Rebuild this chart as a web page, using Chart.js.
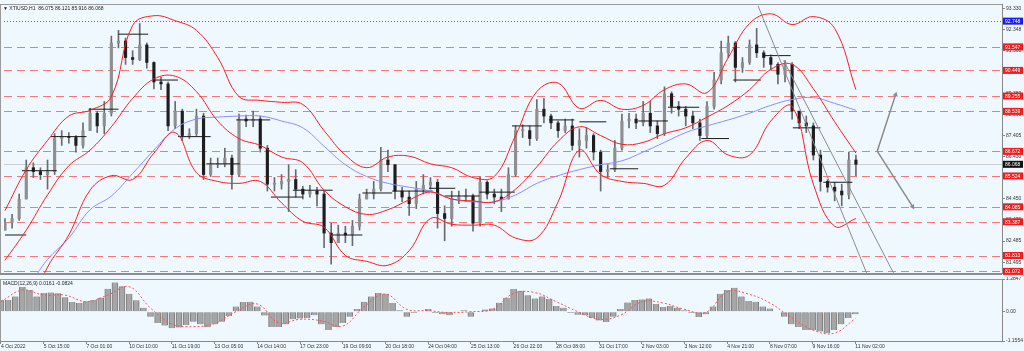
<!DOCTYPE html>
<html>
<head>
<meta charset="utf-8">
<script src="https://cdn.jsdelivr.net/npm/chart.js@4.4.0/dist/chart.umd.min.js"></script>
<style>
  html, body { margin: 0; padding: 0; background: #f0f8ff; }
  #wrap { position: relative; width: 1024px; height: 351px; overflow: hidden; background: #f0f8ff; }
  #PriceChart { position: absolute; left: 0; top: 0; }
  #MacdChart { position: absolute; left: 0; top: 277px; }
</style>
</head>
<body>
<div id="wrap">
  <canvas id="PriceChart" width="1024" height="277"></canvas>
  <canvas id="MacdChart" width="1024" height="74"></canvas>
</div>
<script>
// XTIUSD H1, one candle here = roughly 5-6 hourly bars of the source chart
const first_open = 83.00;
const closes = [83.36,83.54,84.45,85.91,85.73,85.59,85.73,87.27,87.36,87.32,
  86.95,87.64,88.45,87.86,88.45,91.73,91.82,91.05,90.96,91.64,
  90.82,89.91,89.82,87.86,88.55,87.41,87.50,88.32,85.59,86.05,
  86.09,86.36,85.59,88.18,88.09,88.18,86.82,85.14,85.14,85.27,
  85.36,84.91,84.68,84.82,84.68,82.86,82.41,82.86,82.77,83.18,
  84.45,84.68,84.91,86.27,86.05,84.82,84.54,84.23,84.91,85.09,
  85.23,83.77,83.54,84.45,84.54,84.59,83.32,85.23,84.68,84.54,
  84.45,85.59,87.64,87.64,87.27,88.64,88.32,88.00,87.64,87.86,
  86.95,87.18,87.41,86.64,85.73,85.82,86.82,88.09,88.18,88.00,
  88.45,87.86,87.50,89.36,88.77,88.64,88.32,88.00,87.41,88.77,
  90.00,91.27,91.73,90.59,90.82,91.64,91.27,91.05,90.73,90.27,
  90.73,88.55,88.00,87.86,86.50,85.27,85.00,84.82,84.64,86.27,86.068];
const highs = [83.54,83.73,84.68,86.27,86.14,85.91,86.27,87.50,87.64,87.55,
  87.41,88.00,88.68,88.55,89.00,92.05,92.32,91.96,91.37,92.64,
  91.73,90.85,90.14,89.90,89.00,88.64,87.73,88.64,88.45,86.36,
  86.36,86.82,86.50,88.41,88.36,88.55,88.32,86.95,85.45,85.59,
  86.05,85.82,85.04,85.09,85.00,84.82,83.32,83.23,83.18,83.45,
  84.68,84.91,85.27,86.86,86.73,86.05,85.00,84.82,85.27,85.59,
  85.45,85.36,84.13,84.82,84.82,84.91,84.68,85.50,85.30,84.91,
  84.91,85.91,87.86,87.91,87.86,89.09,89.14,88.41,88.09,88.18,
  88.18,87.73,87.77,87.50,86.73,86.05,87.18,88.41,88.45,88.41,
  89.00,89.00,88.09,89.68,89.45,89.00,88.77,88.55,88.18,89.00,
  90.36,91.82,92.05,91.80,91.05,91.87,92.41,91.37,91.18,90.82,
  90.91,90.82,88.55,88.32,88.00,86.73,85.36,85.23,85.14,86.64,86.50];
const lows = [83.00,83.09,83.45,84.45,85.45,85.36,84.91,85.59,86.95,87.05,
  86.64,86.82,87.64,87.55,87.50,88.32,91.50,90.73,90.73,90.91,
  90.55,89.59,89.55,87.64,87.73,87.18,87.27,87.41,85.36,85.50,
  85.91,85.95,84.91,85.50,87.82,87.82,86.64,84.82,84.82,84.91,
  83.86,84.54,84.45,84.54,84.13,82.18,81.41,82.41,82.41,82.27,
  83.00,84.45,84.45,84.82,85.73,84.45,84.32,83.68,84.00,84.68,
  84.91,83.09,82.50,83.18,84.23,84.32,82.95,83.18,84.45,84.23,
  83.86,84.45,85.50,87.32,86.95,87.18,88.00,87.73,87.32,87.55,
  86.73,86.41,86.82,86.27,84.82,85.45,85.73,86.73,87.77,87.73,
  87.86,87.55,87.27,87.41,88.45,88.32,87.86,87.73,87.18,87.27,
  88.64,89.82,91.05,89.91,90.36,90.73,91.05,90.59,90.46,89.82,
  89.91,88.18,87.73,87.55,86.27,84.82,84.77,84.36,84.13,84.45,85.54];

// indicator lines read every 3 candles
const band_idx = [0,3,6,9,12,15,18,21,24,27,30,33,36,39,42,45,48,51,54,57,
  60,63,66,69,72,75,78,81,84,87,90,93,96,99,102,105,108,111,114,117,120];
const bb_upper = [83.91,85.82,87.18,88.32,88.59,89.23,92.55,93.00,92.77,92.32,
  91.05,89.23,89.05,88.96,88.86,87.64,86.50,85.91,86.41,86.45,
  86.09,85.91,85.45,85.50,87.41,89.46,89.86,88.68,89.05,88.64,
  88.82,89.55,89.82,89.41,91.05,92.64,93.09,92.59,92.96,92.41,89.55];
const bb_middle = [81.59,83.00,84.64,86.00,86.73,87.82,89.14,90.05,90.18,89.46,
  88.09,87.27,86.95,86.41,86.14,84.86,84.09,83.73,83.95,84.41,
  84.77,84.45,84.36,84.32,84.91,85.95,87.14,87.82,87.41,87.00,
  87.09,87.50,87.77,88.27,88.82,89.55,90.50,90.73,89.59,88.05,86.59];
const bb_lower = [77.50,79.00,81.27,82.77,84.86,85.54,85.36,86.59,87.55,85.68,
  85.27,85.18,85.27,84.27,83.41,83.13,81.82,81.54,81.36,82.04,
  83.54,83.27,83.23,83.23,82.63,82.63,84.32,86.73,85.59,85.27,
  85.18,85.09,86.36,87.18,86.50,86.50,88.09,88.77,85.14,83.18,83.54];
const ma_slow = [79.40,80.27,81.63,82.63,83.95,84.59,85.64,86.73,87.73,88.18,
  88.27,88.32,88.32,88.09,87.77,86.91,86.05,85.50,85.18,85.00,
  84.82,84.45,84.32,84.32,84.64,85.18,85.54,85.82,86.05,86.23,
  86.64,87.09,87.55,87.86,88.14,88.45,88.82,89.09,89.18,88.91,88.59];

// short black level marks: start candle, end candle, price
const mark_start = [0,2.4,6.5,11.8,16,21,24.4,28.4,32.6,37.5,40.6,46.2,50.4,54.6,59.8,62,66.9,71.5,76.7,81,85.3,89.3,93.5,98.2,102.7,106.9,111.1,115.4];
const mark_end = [3,7.3,11.5,16,20.2,24.4,29,33.1,37.4,42,46.2,50.4,54.6,60.3,63.5,66.9,71.9,75.7,80.3,84.8,89.3,93.5,97.9,102.1,106.6,110.8,115,119.5];
const mark_level = [82.77,85.77,87.36,88.64,92.14,90.00,87.36,86.09,88.14,84.54,84.86,82.77,84.73,84.82,84.95,84.59,84.77,87.86,88.14,88.05,85.86,88.09,88.73,87.27,90.00,91.14,87.77,85.23];

// falling channel and forecast arrows
const channel_a = [[106.2, 93.46], [121.5, 81.00]];
const channel_b = [[109.8, 90.91], [125.3, 81.00]];
const arrow_up = [[123.0, 86.68], [125.6, 89.32]];
const arrow_down = [[123.0, 86.68], [128.0, 84.09]];

const levels = [91.547, 90.449, 89.255, 88.539, 86.672, 85.524, 84.085, 83.387, 81.813, 81.072];
const ask_level = 92.748;
const last_price = 86.068;
const price_ticks = [81.495, 82.485, 83.470, 84.450, 85.440, 86.430, 87.405, 88.390, 89.380, 90.370, 91.360, 92.348, 93.330];

const macd_hist = [0.46,0.46,0.60,0.97,0.85,0.60,0.73,0.75,0.72,0.57,
  0.38,0.34,0.41,0.46,0.55,0.90,1.15,1.00,0.70,0.45,
  0.15,-0.20,-0.45,-0.55,-0.65,-0.62,-0.53,-0.40,-0.50,-0.61,
  -0.50,-0.40,-0.17,0.20,0.38,0.39,0.20,-0.15,-0.60,-0.60,
  -0.50,-0.30,-0.27,-0.25,-0.14,-0.50,-0.72,-0.60,-0.45,-0.20,
  0.10,0.39,0.60,0.73,0.70,0.34,0.05,-0.20,-0.05,0.02,
  0.10,-0.05,-0.10,-0.14,0.03,0.05,-0.20,0.00,0.08,0.12,
  0.35,0.55,0.89,0.82,0.65,0.52,0.60,0.50,0.22,0.15,
  -0.05,-0.12,-0.14,-0.25,-0.35,-0.41,-0.20,0.10,0.36,0.46,
  0.48,0.52,0.30,0.18,0.22,0.15,0.05,-0.05,-0.21,-0.10,
  0.20,0.70,0.85,0.94,0.60,0.42,0.39,0.20,0.12,0.00,
  -0.20,-0.50,-0.60,-0.72,-0.72,-0.78,-0.85,-0.72,-0.50,-0.25,-0.10];
const macd_signal = [0.39,0.85,0.65,0.65,0.39,0.65,0.98,0.14,-0.49,-0.59,
  -0.47,0.00,0.30,-0.44,-0.30,-0.36,-0.57,0.19,0.69,0.09,
  0.04,-0.04,0.00,0.09,0.72,0.75,0.39,0.00,-0.30,-0.14,
  0.39,0.34,0.09,-0.03,0.78,0.69,0.34,-0.23,-0.72,-0.85,-0.27];
const macd_ticks = [-1.1554, 0, 1.2847];

const x_label_idx = [0,6,12,18,24,30,36,42,48,54,60,66,72,78,84,90,96,102,108,114,120];
const x_labels = ['4 Oct 2022','5 Oct 15:00','7 Oct 01:00','10 Oct 10:00','11 Oct 19:00','13 Oct 05:00',
  '14 Oct 14:00','17 Oct 23:00','19 Oct 09:00','20 Oct 18:00','24 Oct 04:00','25 Oct 13:00',
  '26 Oct 22:00','28 Oct 08:00','31 Oct 17:00','2 Nov 03:00','3 Nov 12:00','4 Nov 21:00',
  '8 Nov 07:00','9 Nov 16:00','11 Nov 02:00'];

const FONT = "'Liberation Sans', Arial, sans-serif";
const X_MIN = -0.14, X_MAX = 140.6;
Chart.defaults.font.family = FONT;

const opens = closes.map((c, i) => i === 0 ? first_open : closes[i - 1]);
const pts = (xs, ys) => xs.map((x, i) => ({x: x, y: ys[i]}));
const seg = (p) => p.map(q => ({x: q[0], y: q[1]}));

let mark_points = [];
mark_level.forEach((lv, i) => {
    mark_points.push({x: mark_start[i], y: lv}, {x: mark_end[i], y: lv}, {x: mark_end[i], y: null});
});

const frame_plugin = {
    id: 'frame',
    beforeDatasetsDraw(chart, args, opts) {
        const {ctx, chartArea: a, scales: {y}} = chart;
        ctx.save();
        if (opts.levels) {
            ctx.lineWidth = 1;
            ctx.strokeStyle = '#cfcfcf';
            let py = Math.round(y.getPixelForValue(last_price)) + 0.5;
            ctx.beginPath(); ctx.moveTo(a.left, py); ctx.lineTo(a.right, py); ctx.stroke();

            ctx.strokeStyle = 'rgba(255,85,85,0.8)';
            ctx.setLineDash([8, 5]);
            levels.forEach(v => {
                let ly = Math.round(y.getPixelForValue(v)) + 0.5;
                ctx.beginPath(); ctx.moveTo(a.left, ly); ctx.lineTo(a.right, ly); ctx.stroke();
            });
            ctx.strokeStyle = '#5a5aff';
            ctx.setLineDash([1, 2]);
            let ay = Math.round(y.getPixelForValue(ask_level)) + 0.5;
            ctx.beginPath(); ctx.moveTo(a.left, ay); ctx.lineTo(a.right, ay); ctx.stroke();
        }
        ctx.restore();
    },
    afterDraw(chart, args, opts) {
        const {ctx, chartArea: a, scales: {y}} = chart;
        ctx.save();
        ctx.strokeStyle = '#9a9a9a';
        ctx.lineWidth = 1;
        ctx.beginPath();
        ctx.moveTo(0.5, a.top); ctx.lineTo(0.5, a.bottom);
        ctx.moveTo(0, a.top + 0.5); ctx.lineTo(a.right, a.top + 0.5);
        ctx.stroke();
        ctx.font = '5px ' + FONT;
        ctx.textBaseline = 'middle';
        if (opts.levels) {
            ctx.strokeStyle = '#8c8c8c';
            ctx.lineWidth = 2;
            ctx.beginPath(); ctx.moveTo(0, a.bottom + 1); ctx.lineTo(a.right, a.bottom + 1); ctx.stroke();
            const box = (v, fill) => {
                let py = y.getPixelForValue(v);
                ctx.fillStyle = fill;
                ctx.fillRect(a.right + 1, py - 3.5, 20, 7);
                ctx.fillStyle = '#ffffff';
                ctx.fillText(v.toFixed(3), a.right + 3, py + 0.5);
            };
            levels.forEach(v => box(v, '#f21c1c'));
            box(ask_level, '#1c1cf2');
            box(last_price, '#111111');
        }
        ctx.fillStyle = '#222';
        ctx.fillText(opts.title, 3, a.top + 5);
        ctx.restore();
    }
};

const price_chart = new Chart(
    document.getElementById('PriceChart'),
    {
        type: 'bar',
        data: {
            datasets: [
                {
                    type: 'line', order: 0,
                    data: seg(channel_a),
                    borderColor: '#8a8a8a', borderWidth: 1, pointRadius: 0,
                },
                {
                    type: 'line', order: 0,
                    data: seg(channel_b),
                    borderColor: '#8a8a8a', borderWidth: 1, pointRadius: 0,
                },
                {
                    type: 'line', order: 0,
                    data: seg(arrow_up),
                    borderColor: '#8a8a8a', borderWidth: 1.5, pointRadius: 0,
                },
                {
                    type: 'line', order: 0,
                    data: seg(arrow_down),
                    borderColor: '#8a8a8a', borderWidth: 1.5, pointRadius: 0,
                },
                {
                    type: 'line', order: 0, showLine: false,
                    data: [{x: arrow_up[1][0], y: arrow_up[1][1]}, {x: arrow_down[1][0], y: arrow_down[1][1]}],
                    pointStyle: 'triangle', pointRadius: 3, pointRotation: [17, 148],
                    pointBackgroundColor: '#8a8a8a', pointBorderColor: '#8a8a8a', borderWidth: 0,
                },
                {
                    type: 'line', order: 1,
                    data: pts(band_idx, bb_upper),
                    borderColor: '#ff1a1a', borderWidth: 1, pointRadius: 0, tension: 0.4,
                },
                {
                    type: 'line', order: 1,
                    data: pts(band_idx, bb_middle),
                    borderColor: '#ff1a1a', borderWidth: 1, pointRadius: 0, tension: 0.4,
                },
                {
                    type: 'line', order: 1,
                    data: pts(band_idx, bb_lower),
                    borderColor: '#ff1a1a', borderWidth: 1, pointRadius: 0, tension: 0.4,
                },
                {
                    type: 'line', order: 1,
                    data: pts(band_idx, ma_slow),
                    borderColor: '#8c8cff', borderWidth: 1, pointRadius: 0, tension: 0.4,
                },
                {
                    type: 'line', order: 2,
                    data: mark_points, spanGaps: false,
                    borderColor: '#1a1a1a', borderWidth: 1, pointRadius: 0,
                },
                {
                    order: 3, grouped: false,
                    data: closes.map((c, i) => ({x: i, y: [opens[i], c]})),
                    backgroundColor: closes.map((c, i) => c >= opens[i] ? '#8f8f8f' : '#1e1e1e'),
                    barThickness: 2.5, minBarLength: 1, borderWidth: 0,
                },
                {
                    order: 4, grouped: false,
                    data: closes.map((c, i) => ({x: i, y: [lows[i], highs[i]]})),
                    backgroundColor: '#6a6a6a',
                    barThickness: 1, borderWidth: 0,
                },
            ]
        },
        options: {
            responsive: false,
            animation: false,
            events: [],
            layout: { padding: { top: 0, bottom: 1, left: 0, right: 0 } },
            scales: {
                x: {
                    type: 'linear', min: X_MIN, max: X_MAX, offset: false,
                    display: false,
                },
                y: {
                    position: 'right',
                    min: 80.997, max: 93.548,
                    afterBuildTicks: (s) => { s.ticks = price_ticks.map(v => ({value: v})); },
                    afterFit: (s) => { s.width = 22; s.paddingTop = 0; s.paddingBottom = 0; },
                    ticks: {
                        font: { size: 5 }, color: '#333', padding: 1,
                        callback: (v) => v.toFixed(3),
                    },
                    grid: { drawOnChartArea: false, tickLength: 3, color: '#888' },
                    border: { color: '#888' },
                }
            },
            plugins: {
                legend: { display: false },
                tooltip: { enabled: false },
                frame: { levels: true, title: '\u25BC XTIUSD,H1  86.075 86.121 85.916 86.068' },
            }
        },
        plugins: [frame_plugin]
    }
);

const macd_chart = new Chart(
    document.getElementById('MacdChart'),
    {
        type: 'bar',
        data: {
            datasets: [
                {
                    type: 'line', order: 0,
                    data: pts(band_idx, macd_signal),
                    borderColor: '#ff5050', borderWidth: 1, borderDash: [2, 2],
                    pointRadius: 0, tension: 0.4,
                },
                {
                    order: 1,
                    data: macd_hist.map((v, i) => ({x: i, y: v})),
                    backgroundColor: '#a6a6a6',
                    borderColor: '#7c7c7c',
                    borderWidth: { left: 1, right: 1, top: 0, bottom: 0 },
                    barThickness: 6,
                },
            ]
        },
        options: {
            responsive: false,
            animation: false,
            events: [],
            layout: { padding: { top: 2, bottom: 0, left: 0, right: 0 } },
            scales: {
                x: {
                    type: 'linear', min: X_MIN, max: X_MAX, offset: false,
                    afterBuildTicks: (s) => { s.ticks = x_label_idx.map(v => ({value: v})); },
                    afterFit: (s) => { s.height = 10; },
                    ticks: {
                        autoSkip: false, maxRotation: 0, align: 'start', padding: 0,
                        font: { size: 5 }, color: '#333',
                        callback: (v) => x_labels[x_label_idx.indexOf(v)],
                    },
                    grid: { drawOnChartArea: false, tickLength: 3, color: '#888', offset: false },
                    border: { color: '#888' },
                },
                y: {
                    position: 'right',
                    min: -1.1554, max: 1.2847,
                    afterBuildTicks: (s) => { s.ticks = macd_ticks.map(v => ({value: v})); },
                    afterFit: (s) => { s.width = 22; s.paddingTop = 0; s.paddingBottom = 0; },
                    ticks: {
                        font: { size: 5 }, color: '#333', padding: 1,
                        callback: (v) => v === 0 ? '0.00' : String(v),
                    },
                    grid: { drawOnChartArea: false, tickLength: 3, color: '#888' },
                    border: { color: '#888' },
                }
            },
            plugins: {
                legend: { display: false },
                tooltip: { enabled: false },
                frame: { levels: false, title: 'MACD(12,26,9) 0.0161 -0.0824' },
            }
        },
        plugins: [frame_plugin]
    }
);
</script>
</body>
</html>
